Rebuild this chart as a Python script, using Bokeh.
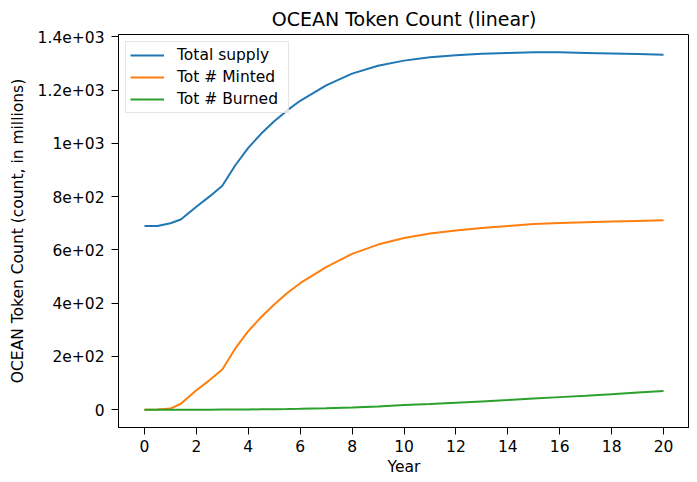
from bokeh.plotting import figure
from bokeh.models import Range1d, FixedTicker, Legend, LegendItem
from bokeh.embed import file_html
from bokeh.resources import INLINE

# ---- data ----
years = [0, 0.5, 1, 1.4, 2, 2.5, 3, 3.5, 4, 4.5, 5, 5.5, 6, 7, 8, 9, 10,
         11, 12, 13, 14, 15, 16, 17, 18, 19, 20]
total_supply = [690, 690, 700, 714, 762, 800, 841, 918, 983, 1037, 1083, 1124,
                1160, 1218, 1262, 1292, 1311, 1324, 1331, 1337, 1340, 1342,
                1342, 1340, 1338, 1336, 1333]
tot_minted = [0, 0.5, 4, 22, 73, 110, 151, 230, 295, 348, 395, 438, 475, 535,
              585, 620, 645, 662, 673, 682, 690, 697, 701, 704, 707, 709, 711]
tot_burned = [0, 0, 0, 0, 0, 0, 0.3, 0.5, 0.8, 1.2, 1.7, 2.3, 3, 5, 8, 12, 17,
              21, 26, 31, 36, 42, 47, 52, 58, 64, 70]

series_names = ["Total supply", "Tot # Minted", "Tot # Burned"]
series_colors = ["#1f77b4", "#ff7f0e", "#2ca02c"]

x_ticks = [0, 2, 4, 6, 8, 10, 12, 14, 16, 18, 20]
y_ticks = [0, 200, 400, 600, 800, 1000, 1200, 1400]
y_tick_labels = ["0", "2e+02", "4e+02", "6e+02", "8e+02", "1e+03", "1.2e+03", "1.4e+03"]

title_text = "OCEAN Token Count (linear)"
x_label = "Year"
y_label = "OCEAN Token Count (count, in millions)"

# matplotlib-like 5% margins
all_vals = total_supply + tot_minted + tot_burned
ymin, ymax = min(all_vals), max(all_vals)
ypad = 0.05 * (ymax - ymin)
xpad = 0.05 * (max(years) - min(years))

FONT = "DejaVu Sans"
FS = "15.5px"

p = figure(frame_width=571, frame_height=393,
           x_range=Range1d(min(years) - xpad, max(years) + xpad),
           y_range=Range1d(ymin - ypad, ymax + ypad),
           output_backend="svg", toolbar_location=None,
           min_border_left=118, min_border_top=31,
           min_border_right=0, min_border_bottom=50)

p.background_fill_color = "white"
p.border_fill_color = "white"
p.outline_line_color = "black"
p.outline_line_width = 1
p.outline_line_alpha = 1
p.xgrid.visible = False
p.ygrid.visible = False

p.title.text = title_text
p.title.align = "center"
p.title.text_font = FONT
p.title.text_font_size = "19px"
p.title.text_font_style = "normal"
p.title.text_color = "black"
p.title.standoff = 10

for ax in (p.xaxis[0], p.yaxis[0]):
    ax.axis_line_color = "black"
    ax.major_tick_line_color = "black"
    ax.major_tick_in = 0
    ax.major_tick_out = 7
    ax.minor_tick_line_color = None
    ax.major_label_text_font = FONT
    ax.major_label_text_font_size = FS
    ax.major_label_text_color = "black"
    ax.axis_label_text_font = FONT
    ax.axis_label_text_font_size = FS
    ax.axis_label_text_font_style = "normal"
    ax.axis_label_text_color = "black"

p.xaxis.ticker = FixedTicker(ticks=x_ticks)
p.xaxis.major_label_standoff = 5
p.xaxis.axis_label = x_label
p.xaxis.axis_label_standoff = 3

p.yaxis.ticker = FixedTicker(ticks=y_ticks)
p.yaxis.major_label_overrides = {t: s for t, s in zip(y_ticks, y_tick_labels)}
p.yaxis.major_label_standoff = 7
p.yaxis.axis_label = y_label
p.yaxis.axis_label_standoff = 8

renderers = []
for vals, col in zip([total_supply, tot_minted, tot_burned], series_colors):
    r = p.line(years, vals, line_color=col, line_width=2)
    renderers.append(r)

legend = Legend(items=[LegendItem(label=n, renderers=[r]) for n, r in zip(series_names, renderers)],
                location="top_left")
legend.margin = 7
legend.padding = 4
legend.spacing = 4
legend.label_height = 18
legend.glyph_height = 18
legend.glyph_width = 34
legend.label_standoff = 13
legend.label_width = 107
legend.label_text_font = FONT
legend.label_text_font_size = FS
legend.label_text_color = "black"
legend.border_line_color = "#cccccc"
legend.border_line_width = 1
legend.background_fill_color = "white"
legend.background_fill_alpha = 0.8
p.add_layout(legend)

open("out.html", "w").write(file_html(p, INLINE))
